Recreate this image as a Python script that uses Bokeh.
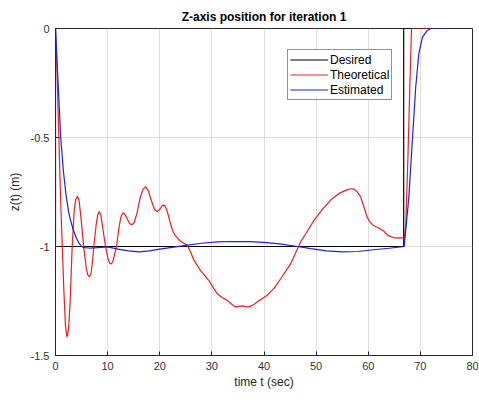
from bokeh.plotting import figure
from bokeh.models import Range1d, FixedTicker, Legend, LegendItem
from bokeh.embed import file_html
from bokeh.resources import INLINE

# ---- data ----
t_des = [0, 0, 66.8, 66.8, 72]
z_des = [0, -1, -1, 0, 0]

theo = [
    (0, 0), (0.3, -0.2), (0.64, -0.5), (1.0, -0.8), (1.3, -1.0), (1.6, -1.2),
    (1.9, -1.36), (2.2, -1.416), (2.5, -1.38), (2.8, -1.26), (3.2, -1.0),
    (3.6, -0.83), (3.9, -0.785), (4.2, -0.77), (4.5, -0.785), (4.9, -0.87),
    (5.4, -1.0), (5.9, -1.10), (6.2, -1.13), (6.5, -1.14), (6.8, -1.125),
    (7.1, -1.07), (7.35, -1.0), (7.8, -0.9), (8.1, -0.855), (8.4, -0.84),
    (8.7, -0.855), (9.1, -0.92), (9.6, -1.0), (10.1, -1.06), (10.4, -1.077),
    (10.7, -1.08), (11.0, -1.07), (11.3, -1.04), (11.7, -1.0), (12.2, -0.91),
    (12.6, -0.86), (13.0, -0.845), (13.4, -0.855), (13.8, -0.875), (14.2, -0.895),
    (14.7, -0.90), (15.1, -0.89), (15.6, -0.85), (16.2, -0.78), (16.8, -0.737),
    (17.3, -0.726), (17.8, -0.745), (18.4, -0.79), (19.0, -0.83), (19.5, -0.84),
    (20.0, -0.83), (20.5, -0.812), (20.9, -0.81), (21.4, -0.835), (22.0, -0.89),
    (22.5, -0.93), (23.0, -0.95), (23.7, -0.97), (24.3, -0.98), (25.3, -0.995),
    (26.0, -1.03), (26.5, -1.06), (27.8, -1.11), (29.4, -1.155), (30.3, -1.19),
    (31.0, -1.216), (32.0, -1.235), (32.9, -1.246), (33.8, -1.265), (34.5, -1.277),
    (35.2, -1.275), (35.8, -1.272), (36.5, -1.276), (37.1, -1.277), (38.0, -1.267),
    (38.7, -1.255), (39.6, -1.24), (40.6, -1.224), (42.0, -1.19), (43.2, -1.148),
    (45.1, -1.08), (47.0, -0.98), (48.3, -0.93), (49.6, -0.88), (51.2, -0.83),
    (52.8, -0.787), (54.5, -0.755), (56.0, -0.739), (56.8, -0.735), (57.3, -0.737),
    (57.9, -0.75), (58.5, -0.77), (59.2, -0.82), (59.7, -0.86), (60.1, -0.88),
    (60.6, -0.895), (61.1, -0.905), (62.0, -0.915), (63.0, -0.93), (63.7, -0.948),
    (64.3, -0.955), (65.0, -0.96), (66.5, -0.96), (66.9, -0.96), (67.2, -0.9),
    (67.6, -0.6), (68.0, -0.25), (68.3, 0), (72, 0),
]
t_theo = [a for a, b in theo]
z_theo = [b for a, b in theo]

t_est = [0, 0.5, 1.0, 1.5, 2.0, 2.5, 3.0, 3.5, 4.0, 4.5, 5.0, 5.5, 6.5, 8, 10, 12,
         14, 16, 18, 20, 22, 25, 28, 31, 34, 37, 40, 43, 46.4, 49, 52, 55, 58, 61,
         64, 66.9, 67.8, 68.5, 69.1, 69.7, 70.4, 71.3, 72, 75]
z_est = [0, -0.25, -0.5, -0.65, -0.76, -0.84, -0.89, -0.93, -0.96, -0.985, -1.0,
         -1.005, -1.007, -1.005, -1.002, -1.012, -1.02, -1.025, -1.02, -1.012,
         -1.005, -0.995, -0.985, -0.979, -0.977, -0.978, -0.981, -0.988, -1.0,
         -1.01, -1.02, -1.025, -1.023, -1.015, -1.008, -1.0, -0.77, -0.5, -0.27,
         -0.116, -0.04, -0.01, 0, 0]

x_ticks = [0, 10, 20, 30, 40, 50, 60, 70, 80]
y_ticks = [0, -0.5, -1, -1.5]
y_tick_labels = {0: "0", -0.5: "-0.5", -1: "-1", -1.5: "-1.5"}

FONT = "Liberation Sans"

p = figure(frame_width=417, frame_height=327, min_border_left=55, min_border_right=7,
           min_border_top=28, min_border_bottom=45, output_backend="svg",
           toolbar_location=None, x_range=Range1d(0, 80), y_range=Range1d(-1.5, 0),
           title="Z-axis position for iteration 1")

p.title.align = "center"
p.title.text_font = FONT
p.title.text_font_size = "12px"
p.title.text_font_style = "bold"
p.title.text_color = "#000000"

p.background_fill_color = "white"
p.border_fill_color = "white"
p.outline_line_color = "#262626"
p.outline_line_width = 1

for ax in (p.xaxis[0], p.yaxis[0]):
    ax.major_tick_in = 4
    ax.major_tick_out = 0
    ax.minor_tick_line_color = None
    ax.axis_line_color = "#262626"
    ax.major_tick_line_color = "#262626"
    ax.major_label_text_font = FONT
    ax.major_label_text_font_size = "11px"
    ax.major_label_text_color = "#333333"
    ax.axis_label_text_font = FONT
    ax.axis_label_text_font_size = "12px"
    ax.axis_label_text_font_style = "normal"
    ax.axis_label_text_color = "#262626"

p.xaxis.ticker = FixedTicker(ticks=x_ticks)
p.yaxis.ticker = FixedTicker(ticks=y_ticks)
p.yaxis.major_label_overrides = y_tick_labels
p.xaxis.axis_label = "time t (sec)"
p.yaxis.axis_label = "z(t) (m)"
p.xaxis.major_label_standoff = 6
p.xaxis.axis_label_standoff = 2
p.yaxis.major_label_standoff = 6
p.yaxis.axis_label_standoff = 6

p.xgrid.grid_line_color = "#dedede"
p.ygrid.grid_line_color = "#dedede"

r1 = p.line(t_des, z_des, line_color="#000000", line_width=1.2)
r2 = p.line(t_theo, z_theo, line_color="#e82020", line_width=1.2)
r3 = p.line(t_est, z_est, line_color="#2020e0", line_width=1.2)

legend = Legend(items=[LegendItem(label="Desired", renderers=[r1]),
                       LegendItem(label="Theoretical", renderers=[r2]),
                       LegendItem(label="Estimated", renderers=[r3])],
                location=(232, 255))
legend.label_text_font = FONT
legend.label_text_font_size = "12px"
legend.label_text_color = "#000000"
legend.glyph_width = 38
legend.glyph_height = 15
legend.label_height = 15
legend.label_standoff = 2
legend.spacing = 0
legend.padding = 2
legend.margin = 0
legend.border_line_color = "#262626"
legend.border_line_width = 1
legend.background_fill_alpha = 1
p.add_layout(legend, "center")

open("out.html", "w").write(file_html(p, INLINE))
